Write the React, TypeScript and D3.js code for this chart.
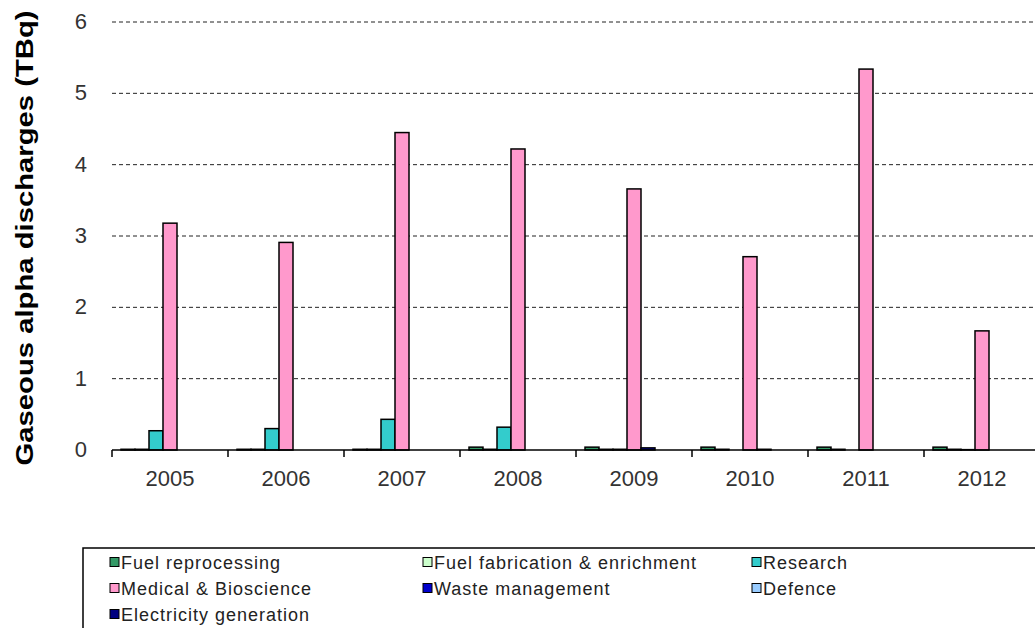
import * as d3 from 'd3';

const years = ['2005', '2006', '2007', '2008', '2009', '2010', '2011', '2012'];

const seriesNames = [
  'Fuel reprocessing',
  'Fuel fabrication & enrichment',
  'Research',
  'Medical & Bioscience',
  'Waste management',
  'Defence',
  'Electricity generation',
];

const seriesColors = ['#339966', '#ccffcc', '#33cccc', '#ff99cc', '#0000cc', '#99ccff', '#000080'];

// values in TBq, one array per sector
const fuelReprocessing = [0.01, 0.01, 0.01, 0.04, 0.04, 0.04, 0.04, 0.04];
const fuelFabrication = [0.01, 0.01, 0.01, 0.01, 0.01, 0.01, 0.01, 0.01];
const research = [0.27, 0.3, 0.43, 0.32, 0.01, 0.0, 0.0, 0.005];
const medical = [3.18, 2.91, 4.45, 4.22, 3.66, 2.71, 5.34, 1.67];
const wasteManagement = [0, 0, 0, 0, 0.03, 0.01, 0, 0];
const defence = [0, 0, 0, 0, 0, 0, 0, 0];
const electricity = [0, 0, 0, 0, 0, 0, 0, 0];

const yTicks = [0, 1, 2, 3, 4, 5, 6];

const allSeries = [fuelReprocessing, fuelFabrication, research, medical, wasteManagement, defence, electricity];

export default function App() {
  const left = 112;
  const step = 116;
  const x0 = d3.scaleBand<string>().domain(years).range([left, left + step * years.length]).padding(0);
  const x1 = d3.scaleBand<string>().domain(seriesNames).range([9, step - 9]).padding(0);
  const y = d3.scaleLinear().domain([0, 6]).range([450, 22]);

  const font = '"Liberation Sans", Arial, sans-serif';

  const legendCols = [110, 423, 752];
  const legendRows = [562, 588, 614];

  return (
    <div style={{ position: 'absolute', left: 0, top: 0 }}>
      <svg width={1035} height={628} style={{ display: 'block', background: '#fff' }} fontFamily={font}>
        {/* gridlines */}
        {yTicks.filter(t => t > 0).map(t => (
          <line key={t} x1={left} x2={1035} y1={y(t)} y2={y(t)}
            stroke="#222" strokeWidth={1} strokeDasharray="4,3" />
        ))}

        {/* y tick labels */}
        {yTicks.map(t => (
          <text key={t} x={87} y={y(t) + 7} textAnchor="end" fontSize={22} fill="#333">{t}</text>
        ))}

        {/* y axis title */}
        <text transform={`translate(33,238) rotate(-90)`} textAnchor="middle" fontSize={23}
          fontWeight="bold" fill="#000" textLength={455} lengthAdjust="spacingAndGlyphs">
          Gaseous alpha discharges (TBq)
        </text>

        {/* bars */}
        {years.map((yr, i) => (
          <g key={yr} transform={`translate(${x0(yr)},0)`}>
            {seriesNames.map((s, j) => {
              const v = allSeries[j][i];
              if (v <= 0) return null;
              return (
                <rect key={s} x={x1(s)} y={y(v)} width={x1.bandwidth()} height={y(0) - y(v)}
                  fill={seriesColors[j]} stroke="#000" strokeWidth={1.5} />
              );
            })}
          </g>
        ))}

        {/* x axis */}
        <line x1={left} x2={1035} y1={y(0)} y2={y(0)} stroke="#000" strokeWidth={1.5} />
        {years.map(yr => (
          <line key={yr} x1={x0(yr)} x2={x0(yr)} y1={y(0)} y2={y(0) + 7} stroke="#000" strokeWidth={1.5} />
        ))}
        {years.map(yr => (
          <text key={yr} x={(x0(yr) ?? 0) + step / 2} y={486} textAnchor="middle" fontSize={22} fill="#333">{yr}</text>
        ))}

        {/* legend */}
        <rect x={83} y={548} width={1000} height={120} fill="#fff" stroke="#000" strokeWidth={1.5} />
        {seriesNames.map((s, j) => {
          const cx = legendCols[j % 3];
          const cy = legendRows[Math.floor(j / 3)];
          return (
            <g key={s}>
              <rect x={cx} y={cy - 4.5} width={9} height={9} fill={seriesColors[j]} stroke="#000" strokeWidth={1} />
              <text x={cx + 11} y={cy + 6.5} fontSize={18} fill="#222" letterSpacing={1}>{s}</text>
            </g>
          );
        })}
      </svg>
    </div>
  );
}
